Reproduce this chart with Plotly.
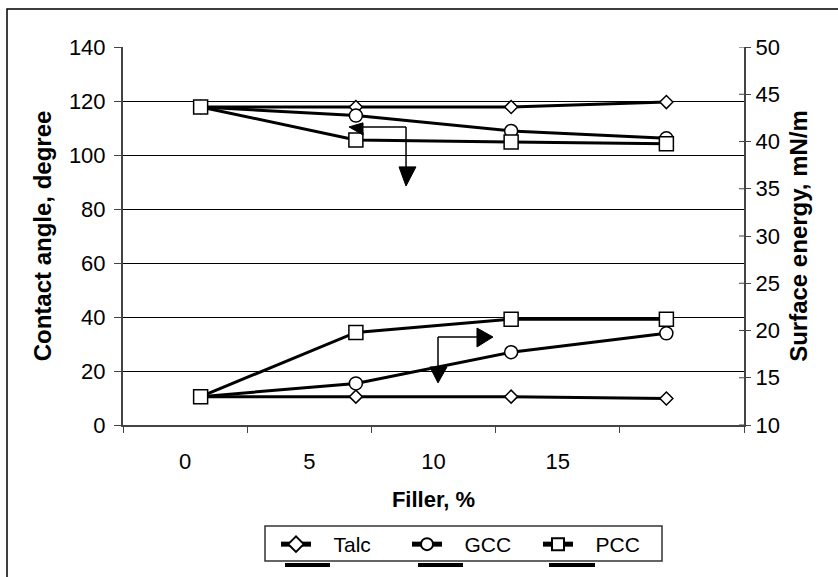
import plotly.graph_objects as go

# ---- data ----
filler = ["0", "5", "10", "15"]
axis_positions = [0, 1, 2, 3]
axis_labels = ["0", "5", "10", "15"]

angle_talc = [117.8, 117.8, 117.8, 119.6]
angle_gcc = [117.8, 114.6, 108.9, 106.2]
angle_pcc = [117.8, 105.6, 104.8, 104.2]

energy_talc = [13.0, 13.0, 13.0, 12.8]
energy_gcc = [13.0, 14.4, 17.7, 19.7]
energy_pcc = [13.0, 19.8, 21.2, 21.2]

names = ["Talc", "GCC", "PCC"]
symbols = ["diamond", "circle", "square"]
sizes = [10, 13, 14]

FONT = "Liberation Sans, Arial, sans-serif"
NB = "\u00a0\u00a0\u00a0"

fig = go.Figure()

# dummy trace so the visible (5-slot) category axis gets drawn
fig.add_trace(go.Scatter(x=axis_positions, y=[None] * 4, xaxis="x", yaxis="y",
                         mode="lines", showlegend=False, hoverinfo="skip"))

angles = [angle_talc, angle_gcc, angle_pcc]
energies = [energy_talc, energy_gcc, energy_pcc]

for i, n in enumerate(names):
    fig.add_trace(go.Scatter(
        x=filler, y=angles[i], name=NB + n, xaxis="x2", yaxis="y",
        mode="lines+markers", showlegend=True, legendgroup=n,
        line=dict(color="black", width=3),
        marker=dict(symbol=symbols[i], size=sizes[i], color="white",
                    line=dict(color="black", width=1.5)),
    ))
for i, n in enumerate(names):
    fig.add_trace(go.Scatter(
        x=filler, y=energies[i], name=n, xaxis="x2", yaxis="y2",
        mode="lines+markers", showlegend=False, legendgroup=n,
        line=dict(color="black", width=3),
        marker=dict(symbol=symbols[i], size=sizes[i], color="white",
                    line=dict(color="black", width=1.5)),
    ))

PX_L, PX_W, PX_B, PX_H = 123, 621, 425, 378
def px(xp):
    return (xp - PX_L) / PX_W
def py(yp):
    return (PX_B - yp) / PX_H

shapes = []
# outer chart frame
shapes.append(dict(type="rect", xref="paper", yref="paper",
                   x0=px(7), x1=1.25, y0=py(9), y1=-0.6,
                   line=dict(color="black", width=1.5), layer="below"))
# legend box
shapes.append(dict(type="rect", xref="paper", yref="paper",
                   x0=px(265), x1=px(662), y0=py(526), y1=py(561),
                   line=dict(color="#333", width=1.5), layer="below"))

def seg(x0, y0, x1, y1, yref="y"):
    return dict(type="line", xref="x2", yref=yref, x0=x0, y0=y0, x1=x1, y1=y1,
                line=dict(color="black", width=1.5), layer="above")
def tri(path, yref="y"):
    return dict(type="path", xref="x2", yref=yref, path=path,
                fillcolor="black", line=dict(color="black", width=1), layer="above")

shapes += [
    seg(1.046, 110.4, 1.323, 110.4),
    seg(1.323, 110.4, 1.323, 95.6),
    tri("M 0.956 110.4 L 1.046 111.9 L 1.046 107.4 Z"),
    tri("M 1.278 95.6 L 1.387 95.6 L 1.323 88.5 Z"),
    seg(1.529, 32.6, 1.780, 32.6),
    seg(1.529, 32.6, 1.529, 21.5),
    tri("M 1.780 35.9 L 1.780 28.9 L 1.883 32.6 Z"),
    tri("M 1.477 21.5 L 1.587 21.5 L 1.529 15.6 Z"),
]
# truncated duplicate legend entries peeking below the legend box
for x0p, x1p in [(285, 330), (418, 463), (549, 595)]:
    shapes.append(dict(type="line", xref="paper", yref="paper",
                       x0=px(x0p), x1=px(x1p), y0=py(565), y1=py(565),
                       line=dict(color="black", width=4)))
# right-axis tick marks crossing to the inside
for v in range(10, 51, 5):
    shapes.append(dict(type="line", xref="paper", yref="y2",
                       x0=1.0, x1=1.0 - 5 / PX_W, y0=v, y1=v,
                       line=dict(color="#444", width=1)))

fig.update_layout(
    width=838, height=577,
    margin=dict(l=123, r=94, t=47, b=152, autoexpand=False),
    paper_bgcolor="white", plot_bgcolor="white",
    font=dict(family=FONT, color="black", size=22),
    shapes=shapes,
    xaxis=dict(
        range=[-0.5, 4.5], tickmode="array", tickvals=axis_positions,
        ticktext=axis_labels, ticks="", showgrid=False, zeroline=False,
        showline=True, linecolor="#444", linewidth=2,
        tickfont=dict(size=22),
        minor=dict(tickmode="array", tickvals=[-0.5, 0.5, 1.5, 2.5, 3.5, 4.5],
                   ticks="outside", ticklen=6, tickcolor="#444", showgrid=False),
        title=dict(text="<b>Filler, %</b>", font=dict(size=22), standoff=18),
        ticklabelstandoff=16,
    ),
    xaxis2=dict(
        overlaying="x", type="category", range=[-0.5, 3.5],
        visible=False, categoryorder="array", categoryarray=filler,
    ),
    yaxis=dict(
        range=[0, 140], dtick=20, ticks="outside", ticklen=7, tickcolor="#444",
        showgrid=True, gridcolor="black", gridwidth=1, zeroline=False,
        showline=True, linecolor="#444", linewidth=2,
        tickfont=dict(size=22), ticklabelstandoff=4,
        title=dict(text="<b>Contact angle, degree</b>", font=dict(size=24), standoff=10),
    ),
    yaxis2=dict(
        overlaying="y", side="right", range=[10, 50], dtick=5,
        ticks="outside", ticklen=5, tickcolor="#444", showgrid=False, zeroline=False,
        showline=True, linecolor="#444", linewidth=2,
        tickfont=dict(size=22),
        title=dict(text="<b>Surface energy, mN/m</b>", font=dict(size=24), standoff=11),
    ),
    legend=dict(
        orientation="h", x=px(276), y=py(524),
        xanchor="left", yanchor="top",
        borderwidth=0, bgcolor="rgba(0,0,0,0)",
        font=dict(size=21), entrywidth=86, entrywidthmode="pixels",
        itemsizing="constant",
    ),
    showlegend=True,
)

fig.write_html("out.html")
